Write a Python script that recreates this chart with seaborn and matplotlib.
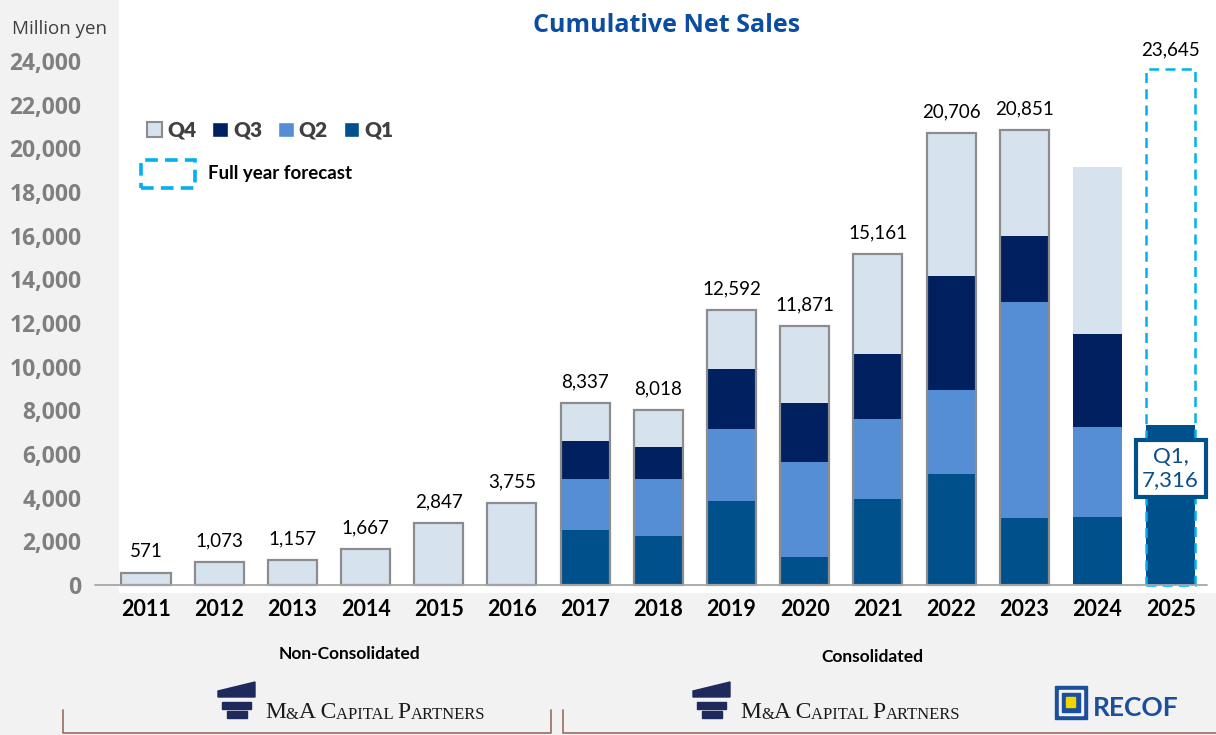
import numpy as np
import pandas as pd
import matplotlib.pyplot as plt
import matplotlib.patches as mpatches
from matplotlib.lines import Line2D
from matplotlib.font_manager import FontProperties
import seaborn as sns

# Data (million yen, cumulative through each quarter)
years = [str(y) for y in range(2011, 2026)]
q1_sales = [np.nan] * 6 + [2520, 2260, 3860, 1270, 3940, 5080, 3070, 3130, 7316]
q2_cum = [np.nan] * 6 + [4840, 4870, 7150, 5630, 7590, 8950, 12980, 7220, np.nan]
q3_cum = [np.nan] * 6 + [6610, 6340, 9900, 8340, 10580, 14140, 15970, 11500, np.nan]
full_year = [571, 1073, 1157, 1667, 2847, 3755, 8337, 8018, 12592, 11871,
             15161, 20706, 20851, 19150, np.nan]
total_labels = ["571", "1,073", "1,157", "1,667", "2,847", "3,755", "8,337", "8,018",
                "12,592", "11,871", "15,161", "20,706", "20,851", None, None]
forecast_year = ["2025"]
forecast_value = [23645]
forecast_label = "23,645"
q1_box_label = "Q1,\n7,316"
yticks = list(range(0, 24001, 2000))

# Colours
BG = "#F2F2F2"
C_Q1 = "#00508C"
C_Q2 = "#558ED5"
C_Q3 = "#002060"
C_Q4 = "#D6E3EE"
C_EDGE = "#8C8C8C"
C_FC = "#00B0F0"
C_TITLE = "#0B4DA2"

W, H = 1216, 735


def P(x, y):
    # pixel position -> figure fraction
    return (x / W, 1 - y / H)


sns.set_theme(style="white")
plt.rcParams['font.family'] = ['Lato', 'DejaVu Sans']

df = pd.DataFrame({"year": years, "q1": q1_sales, "q2_cum": q2_cum,
                   "q3_cum": q3_cum, "full_year": full_year, "label": total_labels})

fig = plt.figure(figsize=(W / 100, H / 100), dpi=100, facecolor=BG)
ax = fig.add_axes([119 / W, 1 - 593 / H, 1 - 119 / W, 593 / H])
ax.set_facecolor("white")

# stacked bars, back to front
for col, c in [("full_year", C_Q4), ("q3_cum", C_Q3), ("q2_cum", C_Q2), ("q1", C_Q1)]:
    sns.barplot(data=df, x="year", y=col, order=years, color=c, width=0.67,
                linewidth=0, errorbar=None, saturation=1, ax=ax)

# outline of the full bars
df_out = df[df["label"].notna()]
sns.barplot(data=df_out, x="year", y="full_year", order=years, fill=False,
            color=C_EDGE, width=0.67, linewidth=1.6, errorbar=None, saturation=1, ax=ax)

# full year forecast (dashed)
df_fc = pd.DataFrame({"year": forecast_year, "value": forecast_value})
sns.barplot(data=df_fc, x="year", y="value", order=years, fill=False,
            color=C_FC, width=0.67, linewidth=1.8, linestyle=(0, (4, 2.5)),
            errorbar=None, saturation=1, ax=ax)

ax.set_xlim(-0.369, 14.62)
ax.set_ylim(-366, 26800)
ax.set_xlabel("")
ax.set_ylabel("")
for s in ax.spines.values():
    s.set_visible(False)
ax.axhline(0, xmin=(95 - 119) / 1097, xmax=(1207 - 119) / 1097, color="#A6A6A6",
           lw=1.3, clip_on=False, zorder=5)

# value labels
for i, lab in enumerate(total_labels):
    if lab:
        ax.annotate(lab, (i, full_year[i]), xytext=(0, 11), textcoords="offset points",
                    ha="center", va="baseline", fontsize=13.5, color="black")
fc_idx = years.index(forecast_year[0])
ax.annotate(forecast_label, (fc_idx, forecast_value[0]), xytext=(0, 10),
            textcoords="offset points", ha="center", va="baseline", fontsize=13.5, color="black")

# Q1 callout for 2025
ax.text(fc_idx, 5330, q1_box_label, ha="center", va="center", fontsize=16, color="#0B4F8A",
        linespacing=1.2, zorder=10,
        bbox=dict(boxstyle="square,pad=0.3", fc="white", ec=C_Q1, lw=3))

# ticks
ax.set_yticks(yticks)
ax.set_yticklabels([f"{v:,}" for v in yticks])
ax.tick_params(axis="y", length=0, pad=27)
for t in ax.get_yticklabels():
    t.set_fontfamily(["Open Sans", "DejaVu Sans"])
    t.set_fontweight("bold")
    t.set_fontsize(16.5)
    t.set_color("#7F7F7F")
ax.tick_params(axis="x", length=0, pad=4)
for t in ax.get_xticklabels():
    t.set_fontweight("bold")
    t.set_fontsize(15.5)
    t.set_color("black")

# titles
fig.text(*P(667, 25), "Cumulative Net Sales", ha="center", va="center", fontsize=18,
         fontweight="bold", color=C_TITLE, family=["Open Sans", "DejaVu Sans"])
fig.text(*P(12, 29), "Million yen", ha="left", va="center", fontsize=13.5,
         color="#404040", family=["Open Sans", "DejaVu Sans"])

# legend
handles = [mpatches.Patch(facecolor=C_Q4, edgecolor=C_EDGE, linewidth=1.5, label="Q4"),
           mpatches.Patch(facecolor=C_Q3, label="Q3"),
           mpatches.Patch(facecolor=C_Q2, label="Q2"),
           mpatches.Patch(facecolor=C_Q1, label="Q1")]
fig.legend(handles=handles, loc="center left", bbox_to_anchor=P(128, 130), ncol=4,
           frameon=False, handlelength=0.75, handleheight=0.75, handletextpad=0.25,
           columnspacing=0.75, labelcolor="#404040",
           prop=FontProperties(family=["Lato", "DejaVu Sans"], weight="heavy", size=15))
x0, y0 = P(141, 188)
x1, y1 = P(195, 160)
fig.add_artist(mpatches.Rectangle((x0, y0), x1 - x0, y1 - y0, transform=fig.transFigure,
                                  fill=False, edgecolor=C_FC, lw=2.6, linestyle=(0, (3.5, 2))))
fig.text(*P(208, 174), "Full year forecast", ha="left", va="center", fontsize=13.5,
         fontweight="bold", color="black")

# group captions
fig.text(*P(349, 654), "Non-Consolidated", ha="center", va="center", fontsize=12.5,
         fontweight="bold", color="black")
fig.text(*P(872, 657), "Consolidated", ha="center", va="center", fontsize=12.5,
         fontweight="bold", color="black")

# brackets
br = "#9C6B5E"
for xs, ys in [([63, 63, 551, 551], [710, 733, 733, 710]),
               ([563, 563, 1216], [710, 733, 733])]:
    fig.add_artist(Line2D([x / W for x in xs], [1 - y / H for y in ys],
                          color=br, lw=1.2, transform=fig.transFigure))


# logos
def mac_logo(x, y):
    navy = "#1F2A5C"
    pts = [P(x, y + 9), P(x + 37, y), P(x + 37, y + 15), P(x, y + 15)]
    fig.add_artist(mpatches.Polygon(pts, closed=True, color=navy, transform=fig.transFigure))
    for (a, b, c, d) in [(x + 4, y + 20, x + 33, y + 27), (x + 9, y + 29, x + 29, y + 36)]:
        p0 = P(a, d)
        p1 = P(c, b)
        fig.add_artist(mpatches.Rectangle(p0, p1[0] - p0[0], p1[1] - p0[1], color=navy,
                                          transform=fig.transFigure))
    parts = [("M", 17), ("&", 12), ("A C", 17), ("APITAL ", 12), ("P", 17), ("ARTNERS", 12)]
    prev = fig.text(*P(x + 47, y + 36), parts[0][0], ha="left", va="baseline",
                    fontsize=parts[0][1], family="Liberation Serif", color="#1A1A1A")
    for txt, fs in parts[1:]:
        prev = ax.annotate(txt, xy=(1, 0), xycoords=prev, ha="left", va="bottom",
                           fontsize=fs, family="Liberation Serif", color="#1A1A1A",
                           annotation_clip=False)


mac_logo(218, 682)
mac_logo(693, 682)

# RECOF
for (a, b, c, d, col) in [(1055, 686, 1087, 719, "#1B4F9C"), (1059, 690, 1083, 715, BG),
                          (1062, 693, 1080, 712, "#1B4F9C"), (1066, 697, 1075, 707, "#F2D600")]:
    p0 = P(a, d)
    p1 = P(c, b)
    fig.add_artist(mpatches.Rectangle(p0, p1[0] - p0[0], p1[1] - p0[1], color=col,
                                      transform=fig.transFigure))
fig.text(*P(1093, 708), "RECOF", ha="left", va="center", fontsize=19, fontweight="bold",
         color="#1B4F9C")

fig.savefig("out.png", dpi=100, facecolor=BG)
